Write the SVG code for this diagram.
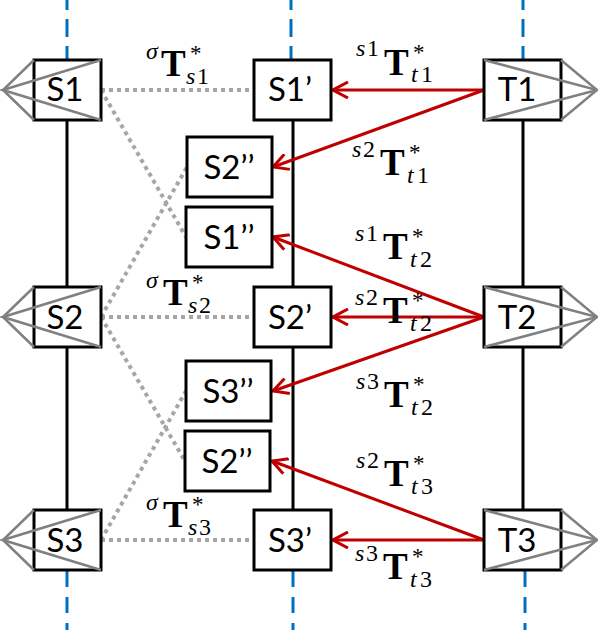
<svg xmlns="http://www.w3.org/2000/svg" width="598" height="630" viewBox="0 0 598 630">
<defs>
<style>
.bx{fill:#fff;stroke:#000;stroke-width:3}
.cone{fill:none;stroke:#808080;stroke-width:2.5}
.nt{font-family:Lato,"Open Sans","Liberation Sans",sans-serif;font-size:33px;fill:#000;text-anchor:middle}
.life{stroke:#000;stroke-width:3}
.blue{stroke:#0070C0;stroke-width:3}
.dot{stroke:#A6A6A6;stroke-width:4;stroke-dasharray:4 4;fill:none}
.red{stroke:#C00000;stroke-width:3;fill:none;marker-end:url(#ah)}
.m{font-family:"Liberation Serif","Times New Roman",serif;fill:#000}
.it{font-style:italic;font-size:24px}
.rm{font-size:24px}
.st{font-size:23px}
.bT{font-weight:bold;font-size:37px}
</style>
<marker id="ah" markerUnits="userSpaceOnUse" markerWidth="18" markerHeight="18" viewBox="0 0 18 18" refX="16" refY="9" orient="auto">
<path d="M1,1 L16,9 L1,17" fill="none" stroke="#C00000" stroke-width="3"/>
</marker>
</defs>
<rect width="598" height="630" fill="#fff"/>

<g id="lifelines">
<line class="blue" x1="67" y1="0" x2="67" y2="59" stroke-dasharray="18 9" stroke-dashoffset="8"/>
<line class="blue" x1="291" y1="0" x2="291" y2="59" stroke-dasharray="18 9" stroke-dashoffset="8"/>
<line class="blue" x1="523" y1="0" x2="523" y2="59" stroke-dasharray="18 9" stroke-dashoffset="8"/>
<line class="blue" x1="67" y1="571" x2="67" y2="630" stroke-dasharray="16 10"/>
<line class="blue" x1="293" y1="571" x2="293" y2="630" stroke-dasharray="16 10"/>
<line class="blue" x1="525" y1="571" x2="525" y2="630" stroke-dasharray="16 10"/>
<line class="life" x1="67" y1="120" x2="67" y2="287"/>
<line class="life" x1="67" y1="347" x2="67" y2="510"/>
<line class="life" x1="293" y1="120" x2="293" y2="287"/>
<line class="life" x1="293" y1="347" x2="293" y2="510"/>
<line class="life" x1="523" y1="120" x2="523" y2="287"/>
<line class="life" x1="523" y1="347" x2="523" y2="510"/>
</g>

<g id="connectors">
<line class="dot" x1="101" y1="90" x2="254" y2="90"/>
<line class="dot" x1="101" y1="90" x2="186" y2="237"/>
<line class="dot" x1="101" y1="317" x2="187" y2="167"/>
<line class="dot" x1="101" y1="317" x2="254" y2="317"/>
<line class="dot" x1="101" y1="317" x2="185" y2="461"/>
<line class="dot" x1="101" y1="540" x2="186" y2="391"/>
<line class="dot" x1="101" y1="540" x2="254" y2="540"/>
<line class="red" x1="484" y1="90" x2="333" y2="90"/>
<line class="red" x1="484" y1="90" x2="273" y2="167"/>
<line class="red" x1="484" y1="317" x2="273" y2="237"/>
<line class="red" x1="484" y1="317" x2="333" y2="317"/>
<line class="red" x1="484" y1="317" x2="273" y2="391"/>
<line class="red" x1="484" y1="540" x2="272" y2="461"/>
<line class="red" x1="484" y1="540" x2="333" y2="540"/>
</g>

<g id="S1">
<rect class="bx" x="34" y="60" width="67" height="60"/>
<polyline class="cone" points="34,60 3,90 34,120"/>
<polyline class="cone" points="101,60 3,90 101,120"/>
<text class="nt" x="65" y="101">S1</text>
</g>
<g id="S2">
<rect class="bx" x="34" y="287" width="67" height="60"/>
<polyline class="cone" points="34,287 3,317 34,347"/>
<polyline class="cone" points="101,287 3,317 101,347"/>
<text class="nt" x="65" y="329">S2</text>
</g>
<g id="S3">
<rect class="bx" x="34" y="510" width="67" height="60"/>
<polyline class="cone" points="34,510 3,540 34,570"/>
<polyline class="cone" points="101,510 3,540 101,570"/>
<text class="nt" x="65" y="552">S3</text>
</g>

<g id="S1p">
<rect class="bx" x="254" y="60" width="77" height="60"/>
<text class="nt" x="290" y="101">S1’</text>
</g>
<g id="S2p">
<rect class="bx" x="254" y="287" width="77" height="60"/>
<text class="nt" x="290" y="329">S2’</text>
</g>
<g id="S3p">
<rect class="bx" x="254" y="510" width="77" height="60"/>
<text class="nt" x="290" y="552">S3’</text>
</g>

<g id="S2pp_a">
<rect class="bx" x="187" y="137" width="85" height="60"/>
<text class="nt" x="229" y="179">S2’’</text>
</g>
<g id="S1pp">
<rect class="bx" x="186" y="207" width="86" height="60"/>
<text class="nt" x="229" y="249">S1’’</text>
</g>
<g id="S3pp">
<rect class="bx" x="186" y="361" width="85" height="60"/>
<text class="nt" x="228" y="403">S3’’</text>
</g>
<g id="S2pp_b">
<rect class="bx" x="185" y="431" width="85" height="60"/>
<text class="nt" x="227" y="473">S2’’</text>
</g>

<g id="T1">
<rect class="bx" x="484" y="60" width="77" height="60"/>
<polyline class="cone" points="484,60 597,90 484,120"/>
<polyline class="cone" points="561,60 597,90 561,120"/>
<text class="nt" x="517" y="101">T1</text>
</g>
<g id="T2">
<rect class="bx" x="484" y="287" width="77" height="60"/>
<polyline class="cone" points="484,287 597,317 484,347"/>
<polyline class="cone" points="561,287 597,317 561,347"/>
<text class="nt" x="517" y="329">T2</text>
</g>
<g id="T3">
<rect class="bx" x="484" y="510" width="77" height="60"/>
<polyline class="cone" points="484,510 597,540 484,570"/>
<polyline class="cone" points="561,510 597,540 561,570"/>
<text class="nt" x="517" y="552">T3</text>
</g>

<g id="labels" class="m">
<text><tspan class="it" x="146" y="59">σ</tspan><tspan class="bT" x="161" y="76">T</tspan><tspan class="st" x="190" y="61">*</tspan><tspan class="it" x="186" y="84">s</tspan><tspan class="rm" x="197" y="84">1</tspan></text>
<text><tspan class="it" x="146" y="288">σ</tspan><tspan class="bT" x="163" y="305">T</tspan><tspan class="st" x="192" y="290">*</tspan><tspan class="it" x="188" y="313">s</tspan><tspan class="rm" x="199" y="313">2</tspan></text>
<text><tspan class="it" x="146" y="510">σ</tspan><tspan class="bT" x="163" y="527">T</tspan><tspan class="st" x="192" y="512">*</tspan><tspan class="it" x="188" y="535">s</tspan><tspan class="rm" x="199" y="535">3</tspan></text>

<text><tspan class="it" x="356" y="56">s</tspan><tspan class="rm" x="367" y="56">1</tspan><tspan class="bT" x="384" y="75">T</tspan><tspan class="st" x="413" y="60">*</tspan><tspan class="it" x="411" y="82">t</tspan><tspan class="rm" x="421" y="82">1</tspan></text>
<text><tspan class="it" x="352" y="157">s</tspan><tspan class="rm" x="363" y="157">2</tspan><tspan class="bT" x="380" y="175">T</tspan><tspan class="st" x="409" y="160">*</tspan><tspan class="it" x="407" y="183">t</tspan><tspan class="rm" x="417" y="183">1</tspan></text>
<text><tspan class="it" x="355" y="241">s</tspan><tspan class="rm" x="366" y="241">1</tspan><tspan class="bT" x="383" y="259">T</tspan><tspan class="st" x="412" y="244">*</tspan><tspan class="it" x="410" y="267">t</tspan><tspan class="rm" x="420" y="267">2</tspan></text>
<text><tspan class="it" x="355" y="305">s</tspan><tspan class="rm" x="366" y="305">2</tspan><tspan class="bT" x="383" y="323">T</tspan><tspan class="st" x="412" y="308">*</tspan><tspan class="it" x="410" y="331">t</tspan><tspan class="rm" x="420" y="331">2</tspan></text>
<text><tspan class="it" x="356" y="389">s</tspan><tspan class="rm" x="367" y="389">3</tspan><tspan class="bT" x="384" y="407">T</tspan><tspan class="st" x="413" y="392">*</tspan><tspan class="it" x="411" y="415">t</tspan><tspan class="rm" x="421" y="415">2</tspan></text>
<text><tspan class="it" x="356" y="468">s</tspan><tspan class="rm" x="367" y="468">2</tspan><tspan class="bT" x="384" y="486">T</tspan><tspan class="st" x="413" y="471">*</tspan><tspan class="it" x="411" y="494">t</tspan><tspan class="rm" x="421" y="494">3</tspan></text>
<text><tspan class="it" x="355" y="561">s</tspan><tspan class="rm" x="366" y="561">3</tspan><tspan class="bT" x="383" y="579">T</tspan><tspan class="st" x="412" y="564">*</tspan><tspan class="it" x="410" y="587">t</tspan><tspan class="rm" x="420" y="587">3</tspan></text>
</g>
</svg>
